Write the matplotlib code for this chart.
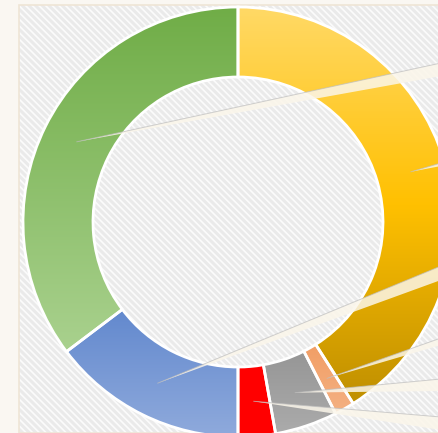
import numpy as np
import matplotlib
matplotlib.use("Agg")
import matplotlib.pyplot as plt
from matplotlib.patches import Rectangle, Polygon
from matplotlib.colors import LinearSegmentedColormap

# ---- data (clockwise from 12 o'clock) ----
categories = ["Yellow", "Orange", "Gray", "Red", "Blue", "Green"]
values = [41.0, 1.5, 4.7, 2.8, 14.7, 35.3]
# gradient stops (top -> bottom) per slice
gradients = [
    ["#ffd966", "#ffc000", "#bf8f00"],
    ["#ed7d31", "#f4b183"],
    ["#757575", "#ababab"],
    ["#ff0000", "#ff0000"],
    ["#4472c4", "#8faadc"],
    ["#70ad47", "#a9d18e"],
]
# y (image px from top) where each leader line leaves the right edge
leader_end_top = [163, 338, 379, 417, 266, 63]
leader_end_bot = [166, 345, 391, 430, 280, 76]

W, H = 439, 433
fig = plt.figure(figsize=(W / 100, H / 100), dpi=100)
fig.patch.set_facecolor("#faf7f2")
ax = fig.add_axes([0, 0, 1, 1])
ax.set_xlim(0, W)
ax.set_ylim(0, H)
ax.set_axis_off()

# hatched plot area
plt.rcParams["hatch.linewidth"] = 1.2
bg = Rectangle((19, 0), W, H - 5, facecolor="#eaeaea", edgecolor="#fbfbfb",
               hatch="\\\\\\\\\\", linewidth=0, zorder=0)
ax.add_patch(bg)
ax.add_patch(Rectangle((19, 0), W, H - 5, facecolor="none", edgecolor="#efe5d6",
                       linewidth=1.2, zorder=0.5))

cx, cy = 238, H - 222
R, width = 215, 70
wedges, _ = ax.pie(values, radius=R, center=(cx, cy), startangle=90,
                   counterclock=False, frame=True,
                   wedgeprops=dict(width=width, edgecolor="white", linewidth=2))
ax.set_xlim(0, W)
ax.set_ylim(0, H)
ax.set_aspect("equal")
ax.set_axis_off()

for w, stops in zip(wedges, gradients):
    w.set_facecolor("none")
    w.set_zorder(3)
    verts = w.get_path().vertices
    y0, y1 = verts[:, 1].min(), verts[:, 1].max()
    x0, x1 = verts[:, 0].min(), verts[:, 0].max()
    cmap = LinearSegmentedColormap.from_list("g", stops)
    grad = np.linspace(0, 1, 256).reshape(-1, 1)
    im = ax.imshow(grad, cmap=cmap, extent=(x0, x1, y0, y1), origin="upper",
                   aspect="auto", zorder=2, interpolation="bilinear")
    im.set_clip_path(w)

ax.set_xlim(0, W)
ax.set_ylim(0, H)

# leader lines from slice mid-angles to labels off to the right
cum = np.cumsum([0] + values)
total = sum(values)
for i, v in enumerate(values):
    mid = (cum[i] + v / 2) / total * 2 * np.pi
    r = R - width / 2
    sx = cx + r * np.sin(mid)
    sy = cy + r * np.cos(mid)
    ex = W + 2
    poly = Polygon([(sx, sy), (ex, H - leader_end_top[i]), (ex, H - leader_end_bot[i])],
                   closed=True, facecolor="#fbf6ea", edgecolor="none", alpha=0.85, zorder=4)
    ax.add_patch(poly)
    ax.plot([sx, ex], [sy, H - leader_end_top[i]], color="#bdbdbd", lw=0.7,
            alpha=0.7, zorder=4.5)

fig.savefig("out.png", dpi=100, facecolor=fig.get_facecolor())
